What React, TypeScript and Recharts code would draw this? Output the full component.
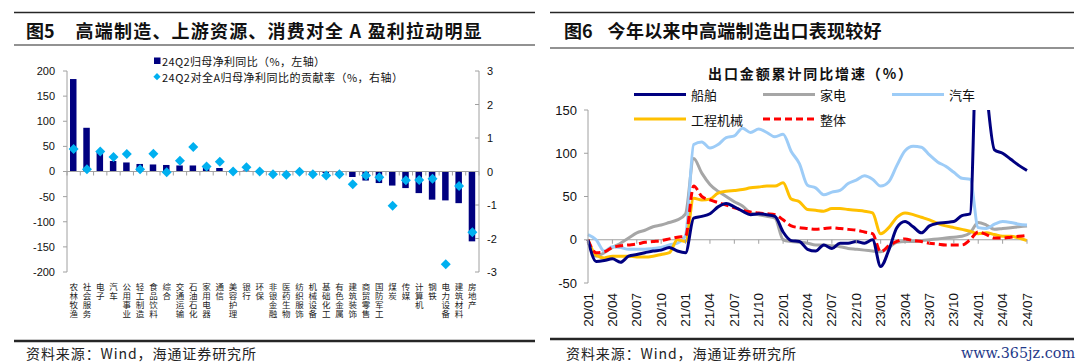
import React from "react";
import { ComposedChart, LineChart, Bar, Line, XAxis, YAxis, ReferenceLine, Legend } from "recharts";

// 图5: 24Q2 net profit growth by industry (left axis) and contribution to all-A growth (right axis)
const industries = [
  "农林牧渔", "社会服务", "电子", "汽车", "公用事业", "轻工制造", "食品饮料", "综合",
  "交通运输", "石油石化", "家用电器", "通信", "美容护理", "银行", "环保", "非银金融",
  "医药生物", "纺织服饰", "机械设备", "基础化工", "有色金属", "建筑装饰", "商贸零售", "国防军工",
  "煤炭", "传媒", "计算机", "钢铁", "电力设备", "建筑材料", "房地产",
];
const profitYoy = [
  184, 87, 39, 21, 18, 15, 14, 13, 12, 12, 10, 7, 3, 2, 1, -1,
  -1.5, -2, -2.5, -3, -4, -11, -18, -23, -28, -33, -43, -56, -57.5, -63, -139,
];
const contribution = [
  0.67, 0.07, 0.6, 0.43, 0.52, 0.07, 0.53, -0.02, 0.32, 0.73, 0.15, 0.29, 0, 0.13, 0, -0.08,
  -0.1, -0.01, -0.08, -0.12, -0.08, -0.38, -0.12, -0.17, -1.02, -0.26, -0.25, -0.22, -2.77, -0.43, -1.81,
];
const yoyTicks = [-200, -150, -100, -50, 0, 50, 100, 150, 200];
const contribTicks = [-3, -2, -1, 0, 1, 2, 3];

// 图6: cumulative export value yoy (%)
const months = [
  "20/01", "20/02", "20/03", "20/04", "20/05", "20/06", "20/07", "20/08", "20/09", "20/10", "20/11", "20/12",
  "21/01", "21/02", "21/03", "21/04", "21/05", "21/06", "21/07", "21/08", "21/09", "21/10", "21/11", "21/12",
  "22/01", "22/02", "22/03", "22/04", "22/05", "22/06", "22/07", "22/08", "22/09", "22/10", "22/11", "22/12",
  "23/01", "23/02", "23/03", "23/04", "23/05", "23/06", "23/07", "23/08", "23/09", "23/10", "23/11", "23/12",
  "24/01", "24/02", "24/03", "24/04", "24/05", "24/06", "24/07",
];
const ship = [
  0, -25, -24, -22, -26, -19, -17, -15, -13, -12, -9, -13, -15,
  25, 27, 30, 38, 42, 38, 33, 29, 30, 29, 27, 9,
  -1, -2, -11, -13, -6, -10, -4, -4, -2, -4, 0, -31,
  -12, 14, 21, 15, 8, 16, 19, 20, 21, 28, 30, 280,
  175, 104, 100, 93, 86, 80,
];
const appliance = [
  -2, -19, -15, -9, -4, 2, 8, 11, 15, 17, 20, 23, 30,
  94, 77, 64, 56, 50, 44, 39, 31, 29, 27, 25, 0,
  -2, -3, -4, -6, -6, -7, -8, -10, -11, -12, -13, -14,
  -9, -3, -2, -2, -1, 0, 1, 2, 3, 4, 8, 20,
  17, 12, 13, 14, 15, 16,
];
const autos = [
  6, 0, -13, -8, -9, -11, -11, -11, -10, -9, -6, -4, 5,
  110, 113, 106, 110, 118, 120, 129, 124, 128, 124, 119, 122,
  102, 88, 63, 60, 52, 55, 57, 65, 69, 74, 70, 62,
  67, 86, 103, 108, 107, 98, 90, 85, 78, 71, 70, 14,
  13, 18, 21, 20, 18, 17,
];
const machinery = [
  0, -18, -21, -19, -19, -19, -20, -20, -19, -17, -15, 0, -2,
  48, 46, 47, 54, 56, 57, 58, 60, 61, 62, 62, 66,
  47, 44, 35, 34, 33, 36, 36, 35, 34, 33, 31, 7,
  14, 26, 31, 29, 26, 23, 19, 16, 14, 12, 10, 7,
  8, 6, 4, 4, 2, -1,
];
const overall = [
  0, -15, -14, -9, -7, -6, -5, -3, -2, -1, 1, 3, 4,
  62, 50, 46, 43, 40, 37, 34, 32, 31, 30, 29, 23,
  16, 14, 13, 12, 13, 14, 13, 12, 11, 9, 7, -14,
  -7, -2, 1, -1, -2, -4, -5, -6, -6, -6, 0, 9,
  6, 2, 2, 3, 4, 5,
];
const exportTicks = [-50, 0, 50, 100, 150];

const NUM_FONT = "'Liberation Sans', Arial, 'Noto Sans CJK SC', sans-serif";
const CJK_FONT = "'Noto Sans CJK SC', 'Liberation Sans', sans-serif";
const AXIS_GREY = "#a0a0a0";
const NAVY = "#000080";
const CYAN = "#00b0f0";
const RULE = "#262626";

// plot boxes
const L_TOP = 71, L_BOTTOM = 272, L_LEFT = 67, L_RIGHT = 479;
const R_TOP = 110, R_BOTTOM = 283;
const BAND_L = (L_RIGHT - L_LEFT) / industries.length;
const ZERO_L = (L_TOP + L_BOTTOM) / 2;
const ZERO_R = R_TOP + ((R_BOTTOM - R_TOP) * exportTicks[exportTicks.length - 1]) / 200;

const profitRows = industries.map((name, i) => ({ name, yoy: profitYoy[i], contrib: contribution[i] }));
const exportRows = months.map((month, i) => ({
  month,
  ship: ship[i],
  appliance: appliance[i],
  autos: autos[i],
  machinery: machinery[i],
  overall: overall[i],
}));

const diamond = (cx: number, cy: number, r: number) =>
  `M${cx},${cy - r}L${cx + r},${cy}L${cx},${cy + r}L${cx - r},${cy}Z`;

const Diamond = (props: any) => {
  const { cx, cy } = props;
  if (cx == null || cy == null) return null;
  return <path d={diamond(cx, cy, 5)} fill={CYAN} />;
};

// industry names stacked one character per row + small ticks on the zero line
const IndustryTick = (props: any) => {
  const { x, y, payload, index } = props;
  const chars = String(payload.value).split("");
  return (
    <g>
      <line x1={x - BAND_L / 2} x2={x - BAND_L / 2} y1={ZERO_L} y2={ZERO_L + 4} stroke={AXIS_GREY} />
      {index === industries.length - 1 && (
        <line x1={x + BAND_L / 2} x2={x + BAND_L / 2} y1={ZERO_L} y2={ZERO_L + 4} stroke={AXIS_GREY} />
      )}
      {chars.map((c, i) => (
        <text
          key={i}
          x={x}
          y={y + 13.8 + i * 9.2}
          textAnchor="middle"
          dominantBaseline="central"
          fontFamily={CJK_FONT}
          fontSize={8.5}
          fill="#222"
        >
          {c}
        </text>
      ))}
    </g>
  );
};

const ContribTick = (props: any) => {
  const { x, y, payload } = props;
  return (
    <g>
      <line x1={x - 12} x2={x - 8} y1={y} y2={y} stroke={AXIS_GREY} />
      <text x={x} y={y} dominantBaseline="central" fontFamily={NUM_FONT} fontSize={11} fill="#111">
        {payload.value}
      </text>
    </g>
  );
};

const MonthTick = (props: any) => {
  const { x, y, payload } = props;
  const ty = y + 10;
  return (
    <g>
      <line x1={x} x2={x} y1={ZERO_R} y2={ZERO_R + 4} stroke={AXIS_GREY} />
      <text
        x={x}
        y={ty}
        transform={`rotate(-90 ${x} ${ty})`}
        textAnchor="end"
        dominantBaseline="central"
        fontFamily={NUM_FONT}
        fontSize={13.5}
        fill="#111"
      >
        {payload.value}
      </text>
    </g>
  );
};

const ProfitLegend = () => (
  <svg width={300} height={34} style={{ display: "block" }}>
    <rect x={4} y={4.5} width={6.5} height={6.5} fill={NAVY} />
    <text x={12} y={8} dominantBaseline="central" fontFamily={CJK_FONT} fontSize={11} fill="#111" textLength={163} lengthAdjust="spacing">
      24Q2归母净利同比（%，左轴）
    </text>
    <path d={diamond(7, 23.7, 3.6)} fill={CYAN} />
    <text x={12} y={24} dominantBaseline="central" fontFamily={CJK_FONT} fontSize={11} fill="#111" textLength={241} lengthAdjust="spacing">
      24Q2对全A归母净利同比的贡献率（%，右轴）
    </text>
  </svg>
);

const exportLegend = [
  { name: "船舶", color: NAVY, col: 0, row: 0, dash: undefined },
  { name: "家电", color: "#a6a6a6", col: 1, row: 0, dash: undefined },
  { name: "汽车", color: "#9dccf7", col: 2, row: 0, dash: undefined },
  { name: "工程机械", color: "#ffc000", col: 0, row: 1, dash: undefined },
  { name: "整体", color: "#ff0000", col: 1, row: 1, dash: "7 4" },
];

const ExportLegend = () => (
  <svg width={420} height={50} style={{ display: "block" }}>
    {exportLegend.map((item) => {
      const x0 = 4 + item.col * 129;
      const cy = 14.6 + item.row * 24.4;
      return (
        <g key={item.name}>
          <line x1={x0} x2={x0 + 52} y1={cy} y2={cy} stroke={item.color} strokeWidth={3} strokeDasharray={item.dash} />
          <text x={x0 + 57} y={cy} dominantBaseline="central" fontFamily={CJK_FONT} fontSize={13} fill="#111">
            {item.name}
          </text>
        </g>
      );
    })}
  </svg>
);

const Frame = () => (
  <svg width={1080} height={364} style={{ position: "absolute", left: 0, top: 0 }}>
    {/* 图5 */}
    <line x1={14} x2={535} y1={12.5} y2={12.5} stroke={RULE} strokeWidth={1.5} />
    <line x1={14} x2={535} y1={45} y2={45} stroke={RULE} strokeWidth={1.2} />
    <text x={26} y={30} dominantBaseline="central" fontFamily={CJK_FONT} fontWeight={700} fontSize={18} fill="#111">
      图5
    </text>
    <text x={75.6} y={30} dominantBaseline="central" fontFamily={CJK_FONT} fontWeight={700} fontSize={18} fill="#111" textLength={406} lengthAdjust="spacing">
      高端制造、上游资源、消费对全 A 盈利拉动明显
    </text>
    <line x1={14} x2={535} y1={341} y2={341} stroke={RULE} strokeWidth={2.5} />
    <text x={26} y={353} dominantBaseline="central" fontFamily={CJK_FONT} fontSize={14} fill="#222" textLength={230} lengthAdjust="spacing">
      资料来源：Wind，海通证券研究所
    </text>

    {/* 图6 */}
    <line x1={550} x2={1074} y1={12.5} y2={12.5} stroke={RULE} strokeWidth={1.5} />
    <line x1={550} x2={1074} y1={48} y2={48} stroke={RULE} strokeWidth={1.2} />
    <text x={564} y={30} dominantBaseline="central" fontFamily={CJK_FONT} fontWeight={700} fontSize={18} fill="#111">
      图6
    </text>
    <text x={607.6} y={30} dominantBaseline="central" fontFamily={CJK_FONT} fontWeight={700} fontSize={18} fill="#111" textLength={274} lengthAdjust="spacing">
      今年以来中高端制造出口表现较好
    </text>
    <text x={810} y={72.8} textAnchor="middle" dominantBaseline="central" fontFamily={CJK_FONT} fontWeight={700} fontSize={14} fill="#111" textLength={204} lengthAdjust="spacing">
      出口金额累计同比增速（%）
    </text>
    <line x1={550} x2={1074} y1={339} y2={339} stroke={RULE} strokeWidth={2.5} />
    <text x={566} y={353} dominantBaseline="central" fontFamily={CJK_FONT} fontSize={14} fill="#222" textLength={230} lengthAdjust="spacing">
      资料来源：Wind，海通证券研究所
    </text>
    <text x={961} y={353} dominantBaseline="central" fontFamily="'DejaVu Serif', serif" fontSize={15} fill="#1f3a8a" textLength={114} lengthAdjust="spacingAndGlyphs">
      www.365jz.com
    </text>
  </svg>
);

export default function App() {
  return (
    <div style={{ position: "absolute", left: 0, top: 0, width: 1080, height: 364, background: "#fff" }}>
      <Frame />

      {/* 图5 */}
      <div style={{ position: "absolute", left: 0, top: 0 }}>
        <ComposedChart
          width={540}
          height={364}
          data={profitRows}
          margin={{ top: L_TOP, right: 540 - L_RIGHT - 40, bottom: 364 - L_BOTTOM - 60, left: L_LEFT - 45 }}
        >
          <XAxis
            dataKey="name"
            interval={0}
            axisLine={false}
            tickLine={false}
            tickSize={0}
            tickMargin={0}
            height={60}
            tick={<IndustryTick />}
          />
          <YAxis
            yAxisId="l"
            width={45}
            domain={[-200, 200]}
            ticks={yoyTicks}
            interval={0}
            tickSize={4}
            tickMargin={8}
            axisLine={{ stroke: AXIS_GREY }}
            tickLine={{ stroke: AXIS_GREY }}
            tick={{ fontSize: 11, fill: "#111", fontFamily: NUM_FONT }}
          />
          <YAxis
            yAxisId="r"
            orientation="right"
            width={40}
            domain={[-3, 3]}
            ticks={contribTicks}
            interval={0}
            tickSize={0}
            tickMargin={8}
            axisLine={{ stroke: AXIS_GREY }}
            tickLine={false}
            tick={<ContribTick />}
          />
          <ReferenceLine yAxisId="l" y={0} stroke={AXIS_GREY} />
          <Bar yAxisId="l" dataKey="yoy" fill={NAVY} barSize={6.5} isAnimationActive={false} />
          <Line
            yAxisId="r"
            dataKey="contrib"
            stroke="none"
            dot={<Diamond />}
            activeDot={false}
            isAnimationActive={false}
          />
          <Legend
            layout="vertical"
            align="center"
            verticalAlign="middle"
            wrapperStyle={{ left: 150, top: 53, width: 300, height: 34 }}
            content={() => <ProfitLegend />}
          />
        </ComposedChart>
      </div>

      {/* 图6 */}
      <div style={{ position: "absolute", left: 540, top: 0 }}>
        <LineChart
          width={540}
          height={364}
          data={exportRows}
          margin={{ top: R_TOP, right: 53, bottom: 364 - R_BOTTOM - 45, left: 8 }}
        >
          <XAxis
            dataKey="month"
            interval={2}
            axisLine={false}
            tickLine={false}
            tickSize={0}
            tickMargin={0}
            height={45}
            tick={<MonthTick />}
          />
          <YAxis
            width={40}
            domain={[-50, 150]}
            ticks={exportTicks}
            interval={0}
            allowDataOverflow
            tickSize={4}
            tickMargin={7}
            axisLine={{ stroke: AXIS_GREY }}
            tickLine={{ stroke: AXIS_GREY }}
            tick={{ fontSize: 13, fill: "#111", fontFamily: NUM_FONT }}
          />
          <ReferenceLine y={0} stroke={AXIS_GREY} />
          <Line type="monotone" dataKey="appliance" stroke="#a6a6a6" strokeWidth={3} dot={false} isAnimationActive={false} />
          <Line type="monotone" dataKey="autos" stroke="#9dccf7" strokeWidth={3} dot={false} isAnimationActive={false} />
          <Line type="monotone" dataKey="machinery" stroke="#ffc000" strokeWidth={3} dot={false} isAnimationActive={false} />
          <Line type="monotone" dataKey="overall" stroke="#ff0000" strokeWidth={3} strokeDasharray="8 4" dot={false} isAnimationActive={false} />
          <Line type="monotone" dataKey="ship" stroke={NAVY} strokeWidth={3} dot={false} isAnimationActive={false} />
          <Legend
            layout="vertical"
            align="center"
            verticalAlign="middle"
            wrapperStyle={{ left: 90, top: 80, width: 420, height: 50 }}
            content={() => <ExportLegend />}
          />
        </LineChart>
      </div>
    </div>
  );
}
